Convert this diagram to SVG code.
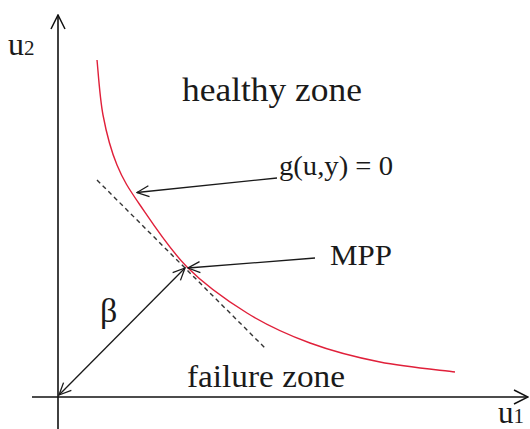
<svg xmlns="http://www.w3.org/2000/svg" width="530" height="429" viewBox="0 0 530 429">
<style>
.t{font-family:"Liberation Serif","Times New Roman",serif;fill:#1a1a1a}
.ln{fill:none;stroke:#1a1a1a;stroke-width:1.3}
.ax{fill:none;stroke:#111;stroke-width:1.6}
</style>
<defs>
<marker id="arr" viewBox="0 0 14 14" refX="13" refY="7" markerWidth="14" markerHeight="14" markerUnits="userSpaceOnUse" orient="auto-start-reverse">
<path d="M1,1.5 L13,7 L1,12.5" fill="none" stroke="#1a1a1a" stroke-width="1.3"/>
</marker>
<marker id="axarr" viewBox="0 0 16 16" refX="15" refY="8" markerWidth="16" markerHeight="16" markerUnits="userSpaceOnUse" orient="auto">
<path d="M1,1 L15,8 L1,15" fill="none" stroke="#111" stroke-width="1.5"/>
</marker>
</defs>
<rect width="530" height="429" fill="#fff"/>
<g id="axes">
<line class="ax" x1="58" y1="429" x2="58" y2="15" marker-end="url(#axarr)"/>
<line class="ax" x1="32" y1="397" x2="528" y2="397" marker-end="url(#axarr)"/>
<text class="t" x="8" y="55" font-size="32">u<tspan font-size="21">2</tspan></text>
<text class="t" x="498" y="423" font-size="31">u<tspan font-size="21">1</tspan></text>
</g>
<g id="limit-state">
<path d="M97,60 C98,69.2 99.7,97.5 103,115 C106.3,132.5 110.8,150 117,165 C123.2,180 128.3,188 140,205 C151.7,222 169.2,249 187,267 C204.8,285 226.5,300.3 247,313 C267.5,325.7 287.8,334.8 310,343 C332.2,351.2 355.8,357.2 380,362 C404.2,366.8 442.5,370.3 455,372" fill="none" stroke="#e0203a" stroke-width="1.4"/>
</g>
<g id="tangent">
<line x1="97" y1="180" x2="266" y2="349" stroke="#333" stroke-width="1.4" stroke-dasharray="4.5,3.5"/>
</g>
<g id="healthy-zone"><text class="t" x="182" y="101" font-size="33" textLength="180" lengthAdjust="spacingAndGlyphs">healthy zone</text></g>
<g id="failure-zone"><text class="t" x="187" y="387" font-size="32" textLength="158" lengthAdjust="spacingAndGlyphs">failure zone</text></g>
<g id="g-label"><text class="t" x="279" y="175" font-size="28" textLength="114" lengthAdjust="spacingAndGlyphs">g(u,y) = 0</text></g>
<g id="mpp-label"><text class="t" x="330" y="265" font-size="30" textLength="62" lengthAdjust="spacingAndGlyphs">MPP</text></g>
<g id="beta-label"><text class="t" x="100" y="322" font-size="34">β</text></g>
<g id="connectors">
<line class="ln" x1="277" y1="178" x2="137" y2="192.5" marker-end="url(#arr)"/>
<line class="ln" x1="315" y1="258" x2="188" y2="268" marker-end="url(#arr)"/>
<line class="ln" x1="59" y1="395" x2="185" y2="268" marker-start="url(#arr)" marker-end="url(#arr)"/>
</g>
</svg>
